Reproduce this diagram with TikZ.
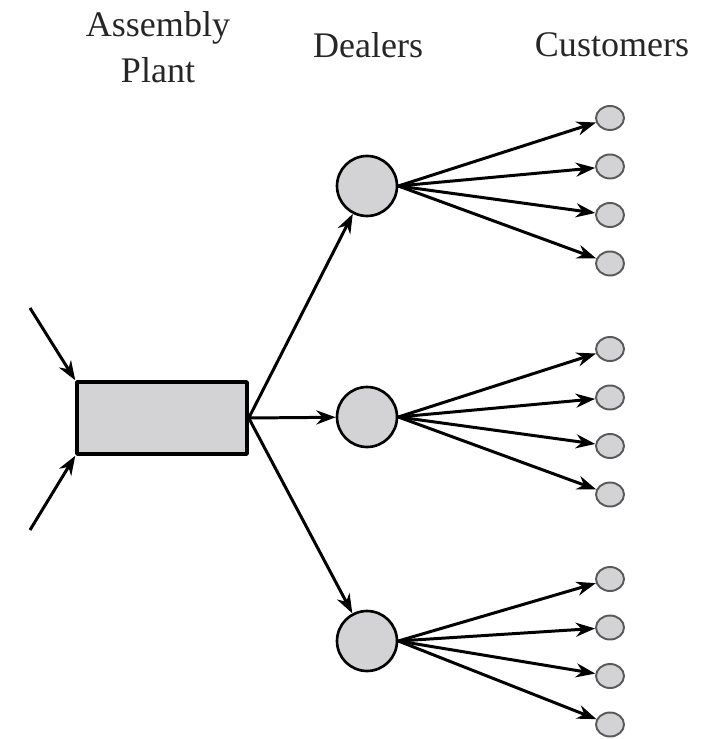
\documentclass[tikz,border=0pt]{standalone}
\usepackage{fontspec}
\setmainfont{Liberation Serif}
\usetikzlibrary{arrows.meta,shapes.geometric}
\definecolor{nodegray}{RGB}{211,211,213}
\tikzset{
	plantbox/.style={draw,line width=2pt,fill=nodegray,minimum width=3.4cm,minimum height=1.44cm},
	dealer/.style={circle,draw,line width=1.5pt,fill=nodegray,minimum size=1.2cm},
	customer/.style={ellipse,draw=black!65,line width=1.1pt,fill=nodegray,minimum width=0.56cm,minimum height=0.48cm,inner sep=0pt},
	heading/.style={font=\fontsize{20.5}{26}\selectfont,text=black!85,align=center}
}
\begin{document}
\begin{tikzpicture}[x=0.02cm,y=-0.02cm,>={Stealth[length=11pt,width=8pt]},line width=1.7pt,line join=round]
		\useasboundingbox (0,0) rectangle (715,739);
		% headings
		\node[heading] (hplant) at (158,47) {Assembly\\Plant};
		\node[heading] (hdeal) at (368,45) {Dealers};
		\node[heading] (hcust) at (612,45) {Customers};
		% plant and dealers
		\node[plantbox] (P) at (162,418) {};
		\node[dealer] (D1) at (367,186) {};
		\node[dealer] (D2) at (367,417) {};
		\node[dealer] (D3) at (367,641) {};
		\coordinate (in1) at (30,308);
		\coordinate (in2) at (30,530);
		\draw[->] (in1)--(P.north west);
		\draw[->] (in2)--(P.south west);
		\draw[->] (P.east)--(D1);
		\draw[->] (P.east)--(D2);
		\draw[->] (P.east)--(D3);
		% customers
		\foreach \d/\y in {1/118,2/349,3/579}{
			\foreach \c in {1,...,4}{
				\node[customer] (C\d\c) at (610,{\y+48.5*(\c-1)}) {};
				\draw[->] (D\d.east)--(C\d\c);
			}
		}
		\end{tikzpicture}
\end{document}
